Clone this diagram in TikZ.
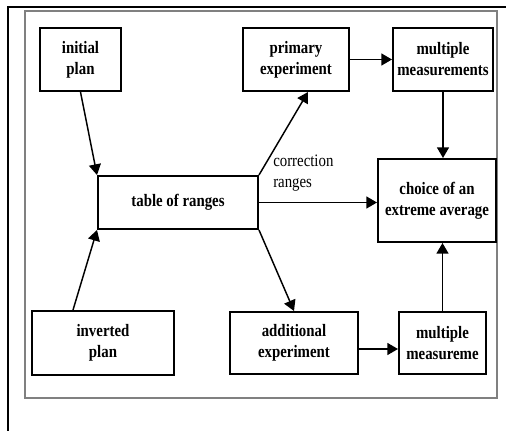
\documentclass[tikz,border=0pt]{standalone}
\usepackage{fontspec}
\setmainfont[FakeStretch=0.85]{Liberation Serif}
\usetikzlibrary{arrows.meta,calc}
\begin{document}
\begin{tikzpicture}[x=0.75pt,y=-0.75pt,
  blk/.style={draw, line width=1.5pt, align=center, inner sep=1pt,
    font=\fontsize{13.1}{15.75}\selectfont\bfseries},
  arr/.style={line width=1.1pt, -{Triangle[length=8pt,width=9pt]}}]
\useasboundingbox (0,0) rectangle (508,431);
\draw[line width=2.2pt] (8,431) -- (8,7) -- (506,7);
\draw[gray, line width=1.2pt] (25,11) rectangle (497,398);

\node[blk, minimum width=81*0.75pt, minimum height=63*0.75pt] (init) at (80.5,59.5) {initial\\plan};
\node[blk, minimum width=106*0.75pt, minimum height=63*0.75pt] (prim) at (296,59.5) {primary\\experiment};
\node[blk, minimum width=100*0.75pt, minimum height=63*0.75pt] (meas) at (443,59.5) {multiple\\measurements};
\node[blk, minimum width=160*0.75pt, minimum height=53*0.75pt] (table) at (178,202.5) {table of ranges};
\node[blk, minimum width=118*0.75pt, minimum height=83*0.75pt] (choice) at (437,200.5) {choice of an\\extreme average};
\node[blk, minimum width=142*0.75pt, minimum height=64*0.75pt] (inv) at (103,343) {inverted\\plan};
\node[blk, minimum width=128*0.75pt, minimum height=62*0.75pt] (add) at (294,343) {additional\\experiment};
\node[blk, minimum width=87*0.75pt, minimum height=62*0.75pt] (meas2) at (442.5,343) {multiple\\measureme};
\node[anchor=north west, align=left, inner sep=0pt,
  font=\fontsize{13.1}{15.75}\selectfont] (corr) at (273,155) {correction\\ranges};

\coordinate (addout) at ($(add.east)+(0,6)$);

\draw[arr] (init.south) -- (table.north west);
\draw[arr] ($(inv.north)+(-30,0)$) -- (table.south west);
\draw[arr] (table.north east) -- ($(prim.south)+(12,0)$);
\draw[arr] (table.east) -- (table.east -| choice.west);
\draw[arr] (table.south east) -- (add.north);
\draw[arr] (prim.east) -- (meas.west);
\draw[arr] (meas.south) -- (meas.south |- choice.north);
\draw[arr] (addout) -- (addout -| meas2.west);
\draw[arr] (meas2.north) -- (meas2.north |- choice.south);
\end{tikzpicture}
\end{document}
